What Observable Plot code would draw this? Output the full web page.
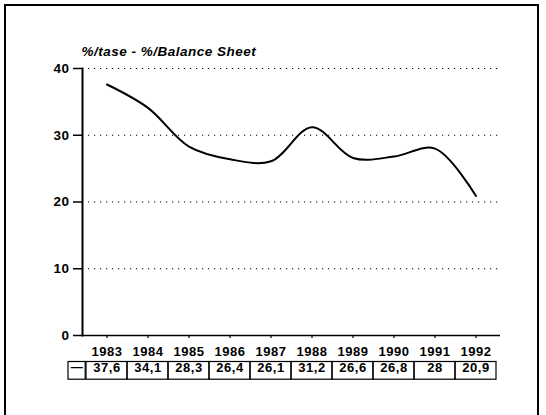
<!DOCTYPE html>
<html>
<head>
<meta charset="utf-8">
<script src="https://cdn.jsdelivr.net/npm/d3@7"></script>
<script src="https://cdn.jsdelivr.net/npm/@observablehq/plot@0.6"></script>
<style>
  html, body { margin: 0; padding: 0; background: #fff; }
  #wrap { position: relative; width: 546px; height: 415px; overflow: hidden; }
  #border { position: absolute; left: 4px; top: 4px; width: 535px; height: 430px; border: 2px solid #000; box-sizing: border-box; }
  #chart { position: absolute; left: 0; top: 0; }
</style>
</head>
<body>
<div id="wrap"><div id="border"></div><div id="chart"></div></div>
<script>
const years = ["1983","1984","1985","1986","1987","1988","1989","1990","1991","1992"];
const values = [37.6, 34.1, 28.3, 26.4, 26.1, 31.2, 26.6, 26.8, 28, 20.9];
const valueLabels = ["37,6","34,1","28,3","26,4","26,1","31,2","26,6","26,8","28","20,9"];
const yTicks = [0, 10, 20, 30, 40];
const gridTicks = [10, 20, 30, 40];
const title = "%/tase - %/Balance Sheet";
const legendSymbol = "—";

const data = years.map((y, i) => ({year: y, value: values[i], label: valueLabels[i]}));

const W = 546, H = 415;
const mL = 82, mR = 46, mT = 68, mB = 80;
const band = (W - mL - mR) / years.length;
const rowTop = 26.5, rowH = 17.7, legendW = 18;

const font = {fontFamily: "Liberation Sans, Arial, sans-serif", fontWeight: "bold"};

const chart = Plot.plot({
  width: W, height: H,
  marginLeft: mL, marginRight: mR, marginTop: mT, marginBottom: mB,
  style: {fontFamily: "Liberation Sans, Arial, sans-serif", fontSize: "13px", color: "#000", background: "transparent", overflow: "visible", letterSpacing: "0.5px"},
  x: {type: "band", domain: years, padding: 0, axis: null},
  y: {domain: [0, 40], axis: null},
  marks: [
    Plot.gridY(gridTicks, {stroke: "#000", strokeOpacity: 1, strokeWidth: 1.2, strokeDasharray: "1.2,4.8"}),
    Plot.axisY(yTicks, {tickSize: 9, tickPadding: 4, label: null, ...font, fontSize: 13.5, strokeWidth: 1.5}),
    Plot.frame({anchor: "left", strokeWidth: 2}),
    Plot.ruleY([0], {strokeWidth: 1.5}),
    Plot.axisX(years, {tickSize: 3, tickPadding: 8, ...font, fontSize: 13, label: null, strokeWidth: 1.2}),
    Plot.line(data, {x: "year", y: "value", curve: "catmull-rom", strokeWidth: 2, stroke: "#000"}),
    Plot.text([title], {frameAnchor: "top-left", textAnchor: "start", lineAnchor: "bottom", dx: -1, dy: -13, ...font, fontStyle: "italic", fontSize: 13.5, text: d => d}),
    // table cells
    Plot.barY(data, {x: "year", y1: 0, y2: 0, insetTop: -rowH, dy: rowTop + rowH, fill: "none", stroke: "#000", strokeWidth: 1.2}),
    Plot.text(data, {x: "year", text: "label", frameAnchor: "bottom", dy: rowTop + rowH / 2 + 1, ...font, fontSize: 13}),
    // legend cell
    Plot.barY([data[0]], {x: "year", y1: 0, y2: 0, insetTop: -rowH, insetLeft: band - legendW, dx: -band, dy: rowTop + rowH, fill: "none", stroke: "#000", strokeWidth: 1.2}),
    Plot.text([data[0]], {x: "year", text: () => legendSymbol, frameAnchor: "bottom", dx: -(band / 2 + legendW / 2), dy: rowTop + rowH / 2, ...font, fontSize: 12})
  ]
});
document.getElementById("chart").append(chart);
</script>
</body>
</html>
